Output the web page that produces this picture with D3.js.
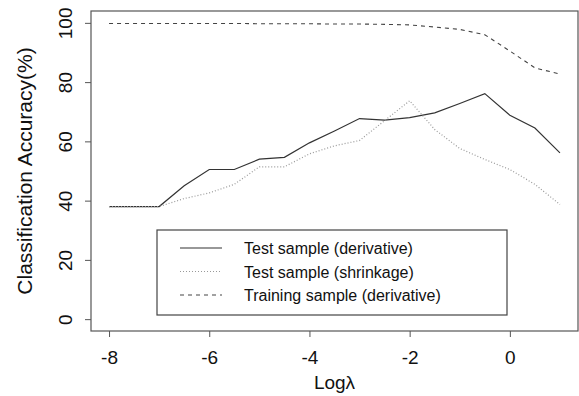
<!DOCTYPE html>
<html>
<head>
  <meta charset="utf-8">
  <script src="https://cdn.jsdelivr.net/npm/d3@7"></script>
  <style>
    body { margin: 0; background: #fff; }
    text { font-family: "Liberation Sans", Arial, sans-serif; fill: #111; }
  </style>
</head>
<body>
  <script type="text/javascript">
    // log(lambda) values
    var logLambda = [-8, -7.5, -7, -6.5, -6, -5.5, -5, -4.5, -4, -3.5, -3, -2.5, -2, -1.5, -1, -0.5, 0, 0.5, 1];
    // accuracies (%)
    var testDerivative = [38, 38, 38, 45, 50.5, 50.5, 54, 54.6, 59.5, 63.5, 67.7, 67.2, 68, 69.6, 72.8, 76.1, 68.8, 64.5, 56.1];
    var testShrinkage = [38, 38, 38, 40.7, 42.6, 45.5, 51.4, 51.4, 55.8, 58.5, 60.3, 67, 73.7, 64, 57.6, 53.9, 50.5, 45.5, 38.7];
    var trainDerivative = [99.8, 99.8, 99.8, 99.8, 99.8, 99.8, 99.7, 99.7, 99.7, 99.6, 99.6, 99.5, 99.3, 98.6, 97.8, 96, 90.5, 84.8, 82.7];

    var xTicks = [-8, -6, -4, -2, 0];
    var yTicks = [0, 20, 40, 60, 80, 100];
    var legendLabels = ["Test sample (derivative)", "Test sample (shrinkage)", "Training sample (derivative)"];

    var W = 579, H = 396;
    var m = {l: 91, t: 11, r: 578, b: 331};

    var svg = d3.select("body").append("svg")
      .attr("width", W).attr("height", H);

    // R-style 4% padding on both axes
    var x = d3.scaleLinear().domain([-8.36, 1.36]).range([m.l, m.r]);
    var y = d3.scaleLinear().domain([-4, 104]).range([m.b, m.t]);

    // plot box
    svg.append("rect")
      .attr("x", m.l).attr("y", m.t)
      .attr("width", m.r - m.l).attr("height", m.b - m.t)
      .attr("fill", "none").attr("stroke", "#555").attr("stroke-width", 1.2);

    // x axis
    var xAxis = d3.axisBottom(x).tickValues(xTicks).tickSize(6);
    var gx = svg.append("g").attr("transform", "translate(0," + m.b + ")").call(xAxis);
    gx.select(".domain").remove();
    gx.selectAll("line").attr("stroke", "#555");
    gx.selectAll("text").attr("y", 33).attr("dy", null)
      .style("font-size", "19px").style("font-family", "Liberation Sans, Arial, sans-serif")
      .attr("fill", "#111")
      .text(function(d) { return d < 0 ? "-" + Math.abs(d) : d; });

    // y axis, labels rotated like R's default
    var yAxis = d3.axisLeft(y).tickValues(yTicks).tickSize(6);
    var gy = svg.append("g").attr("transform", "translate(" + m.l + ",0)").call(yAxis);
    gy.select(".domain").remove();
    gy.selectAll("line").attr("stroke", "#555");
    gy.selectAll("text")
      .attr("x", 0).attr("y", 0).attr("dy", null)
      .attr("text-anchor", "middle")
      .attr("transform", "translate(-19,0) rotate(-90)")
      .style("font-size", "19px").style("font-family", "Liberation Sans, Arial, sans-serif")
      .attr("fill", "#111");

    // axis titles
    svg.append("text")
      .attr("x", (m.l + m.r) / 2).attr("y", 389)
      .attr("text-anchor", "middle")
      .style("font-size", "19px")
      .text("Log\u03bb");

    svg.append("text")
      .attr("transform", "translate(32," + ((m.t + m.b) / 2) + ") rotate(-90)")
      .attr("text-anchor", "middle")
      .style("font-size", "21px")
      .text("Classification Accuracy(%)");

    // lines
    var series = [
      {vals: testDerivative, color: "#333", dash: null, w: 1.2},
      {vals: testShrinkage, color: "#999", dash: "1,2", w: 1.2},
      {vals: trainDerivative, color: "#444", dash: "4,4", w: 1.1}
    ];
    var line = d3.line()
      .x(function(d) { return x(d[0]); })
      .y(function(d) { return y(d[1]); });

    series.forEach(function(s) {
      svg.append("path")
        .datum(d3.zip(logLambda, s.vals))
        .attr("d", line)
        .attr("fill", "none")
        .attr("stroke", s.color)
        .attr("stroke-width", s.w)
        .attr("stroke-dasharray", s.dash);
    });

    // legend
    var lg = svg.append("g");
    lg.append("rect")
      .attr("x", 157).attr("y", 230).attr("width", 350).attr("height", 85)
      .attr("fill", "#fff").attr("stroke", "#444").attr("stroke-width", 1.2);
    legendLabels.forEach(function(lab, i) {
      var yy = 248 + i * 23.5;
      lg.append("line")
        .attr("x1", 180).attr("x2", 222).attr("y1", yy).attr("y2", yy)
        .attr("stroke", series[i].color)
        .attr("stroke-width", series[i].w)
        .attr("stroke-dasharray", series[i].dash);
      lg.append("text")
        .attr("x", 244).attr("y", yy + 6)
        .style("font-size", "16px")
        .text(lab);
    });
  </script>
</body>
</html>
